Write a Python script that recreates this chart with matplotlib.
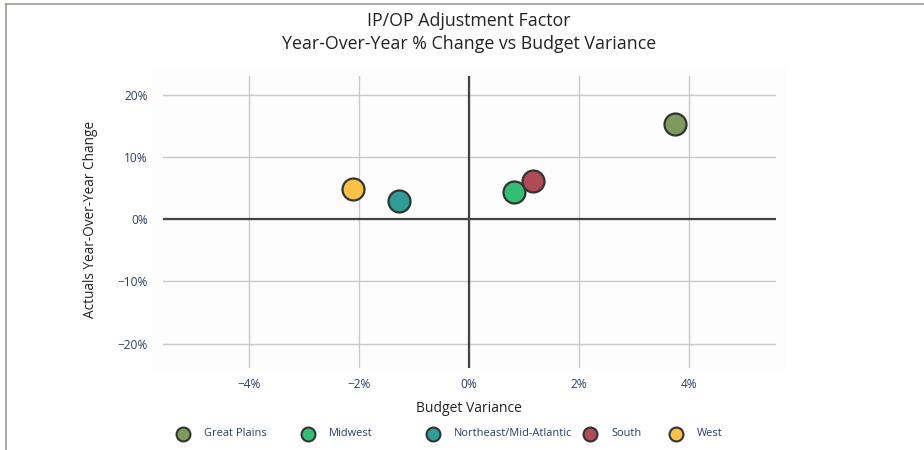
import matplotlib.pyplot as plt
from matplotlib.lines import Line2D

plt.rcParams['font.family'] = ['Open Sans', 'DejaVu Sans']

regions = ['Great Plains', 'Midwest', 'Northeast/Mid-Atlantic', 'South', 'West']
budget_var = [3.75, 0.82, -1.27, 1.16, -2.11]
yoy_change = [15.3, 4.3, 2.9, 6.1, 4.8]
colors = ['#7d9b5c', '#33bf72', '#2f9c98', '#b04b55', '#fbc144']

xticks = [-4, -2, 0, 2, 4]
xticklabels = ['\u22124%', '\u22122%', '0%', '2%', '4%']
yticks = [-20, -10, 0, 10, 20]
yticklabels = ['\u221220%', '\u221210%', '0%', '10%', '20%']

W, H = 924, 450
fig = plt.figure(figsize=(W / 100, H / 100), dpi=100)
fig.patch.set_facecolor('white')

# faint plot background like the original
fig.add_artist(plt.Rectangle((152 / W, 1 - 372 / H), (786 - 152) / W, (372 - 66) / H,
                             transform=fig.transFigure, facecolor='#fdfdfd',
                             edgecolor='none', zorder=0))

ax = fig.add_axes([163 / W, 1 - 368 / H, (776 - 163) / W, (368 - 76) / H])
ax.set_facecolor('none')

for i, name in enumerate(regions):
    ax.scatter(budget_var[i], yoy_change[i], s=250, color=colors[i],
               edgecolor='#333333', linewidth=1.6, zorder=4, label=name)

ax.set_xlim(-5.57, 5.58)
ax.set_ylim(-23.9, 23.0)
ax.set_xticks(xticks)
ax.set_xticklabels(xticklabels)
ax.set_yticks(yticks)
ax.set_yticklabels(yticklabels)
ax.grid(True, color='#c8c8c8', linewidth=1)
ax.axhline(0, color='#444444', linewidth=1.6, zorder=3)
ax.axvline(0, color='#444444', linewidth=1.6, zorder=3)
ax.set_axisbelow(True)
for s in ax.spines.values():
    s.set_visible(False)
ax.tick_params(length=0, labelsize=8.6, labelcolor='#2a3f5f')
ax.tick_params(axis='y', pad=11)
ax.tick_params(axis='x', pad=7)

fig.text(469 / W, 1 - 409 / H, 'Budget Variance', ha='center', va='center',
         fontsize=10, color='#222222')
fig.text(91 / W, 1 - 219 / H, 'Actuals Year-Over-Year Change', ha='center',
         va='center', rotation=90, fontsize=9.8, color='#222222')

fig.text(469 / W, 1 - 21 / H, 'IP/OP Adjustment Factor', ha='center',
         va='center', fontsize=12.8, color='#222222')
fig.text(469 / W, 1 - 44 / H, 'Year-Over-Year % Change vs Budget Variance',
         ha='center', va='center', fontsize=12.8, color='#222222')

# horizontal legend, items laid out by hand like the plotly one
legend_px = [183, 308, 433, 590, 676]
ly = 1 - 434 / H
for i, name in enumerate(regions):
    fig.add_artist(Line2D([legend_px[i] / W], [ly], transform=fig.transFigure,
                          marker='o', linestyle='none', markersize=10,
                          markerfacecolor=colors[i], markeredgecolor='#333333',
                          markeredgewidth=1.5))
    fig.text((legend_px[i] + 21) / W, ly, name, ha='left', va='center',
             fontsize=7.9, color='#2a3f5f')

# frame lines at top and left edge
fig.add_artist(Line2D([6 / W, 1], [1 - 4 / H, 1 - 4 / H], transform=fig.transFigure,
                      color='#9a9a90', linewidth=1.2))
fig.add_artist(Line2D([6 / W, 6 / W], [0, 1 - 4 / H], transform=fig.transFigure,
                      color='#9a9a90', linewidth=1.2))

fig.savefig('out.png', dpi=100)
